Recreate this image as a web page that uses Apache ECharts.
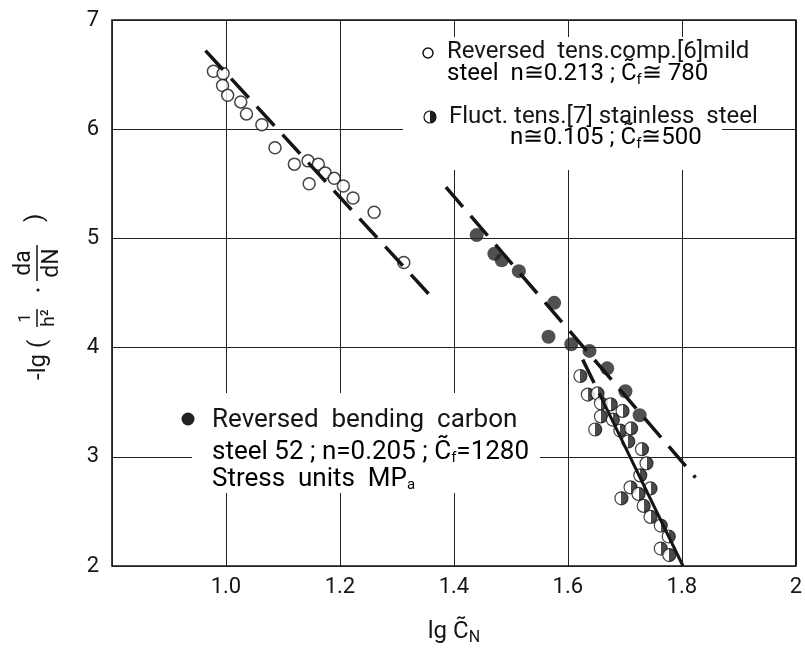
<!DOCTYPE html>
<html><head><meta charset="utf-8">
<script src="https://cdn.jsdelivr.net/npm/echarts@6/dist/echarts.min.js"></script>
<style>html,body{margin:0;padding:0;background:#fff}#c{width:805px;height:651px}</style>
</head><body><div id="c"></div>
<script>
// ---- data ----
const xTickLabels = ['', '1.0', '1.2', '1.4', '1.6', '1.8', '2'];
const yTickLabels = ['2', '3', '4', '5', '6', '7'];

// ○ Reversed tens.comp.[6] mild steel
const mildX = [0.978,0.995,0.994,1.003,1.026,1.036,1.063,1.086,1.120,1.144,1.162,1.174,1.190,1.206,1.223,1.146,1.260,1.312];
const mildY = [6.53,6.51,6.40,6.31,6.25,6.14,6.04,5.83,5.68,5.71,5.68,5.60,5.55,5.48,5.37,5.50,5.24,4.78];
const mildFitX = [0.964, 1.356];
const mildFitY = [6.72, 4.49];

// ● Reversed bending carbon steel 52
const carbonX = [1.440,1.471,1.484,1.514,1.576,1.566,1.606,1.638,1.669,1.701,1.726];
const carbonY = [5.03,4.86,4.80,4.70,4.41,4.10,4.03,3.97,3.81,3.60,3.38];
const carbonFitX = [1.386, 1.824];
const carbonFitY = [5.47, 2.81];

// ◑ Fluct. tens.[7] stainless steel
const stainX = [1.622,1.635,1.652,1.658,1.675,1.696,1.658,1.679,1.648,1.692,1.711,1.706,1.730,1.738,1.727,1.745,1.710,1.694,1.724,1.733,1.745,1.763,1.777,1.763,1.778];
const stainY = [3.74,3.57,3.58,3.49,3.48,3.42,3.37,3.34,3.25,3.24,3.26,3.14,3.07,2.94,2.83,2.71,2.72,2.62,2.66,2.55,2.45,2.37,2.27,2.16,2.10];
const stainFitDashX = [1.626, 1.655];
const stainFitDashY = [3.89, 3.58];
const stainFitSolidX = [1.655, 1.802];
const stainFitSolidY = [3.58, 2.00];

// ---- chart ----
const FONT = 'Roboto';
const INK = '#151515';
const pairs = (xs, ys) => xs.map((x, i) => [x, ys[i]]);
const halfFill = {type:'linear', x:0, y:0, x2:1, y2:0, colorStops:[
  {offset:0,color:'#ffffff'},{offset:0.5,color:'#ffffff'},{offset:0.5,color:'#1e1e1e'},{offset:1,color:'#1e1e1e'}]};

const chart = echarts.init(document.getElementById('c'));
const sub = {fontSize:15, fontFamily:FONT, color:INK, padding:[12,0,0,0]};
const lineDash = {color:INK, width:3.5, type:[26,12]};

chart.setOption({
  animation:false,
  backgroundColor:'#fff',
  grid:{left:112, right:8, top:20, bottom:83, show:true, borderColor:INK, borderWidth:1.6},
  xAxis:{type:'value', min:0.8, max:2.0, interval:0.2,
    axisLine:{show:false}, axisTick:{show:false},
    splitLine:{show:true, lineStyle:{color:'#222', width:1}},
    axisLabel:{formatter:(v,i)=>xTickLabels[i] || '', fontSize:22, fontFamily:FONT, color:INK, margin:10},
    name:'{t|lg C\u0303}{s|N}', nameLocation:'middle', nameGap:52,
    nameTextStyle:{rich:{t:{fontSize:24, fontFamily:FONT, color:INK}, s:{fontSize:16, fontFamily:FONT, color:INK, padding:[12,0,0,0]}}}
  },
  yAxis:{type:'value', min:2, max:7, interval:1,
    axisLine:{show:false}, axisTick:{show:false},
    splitLine:{show:true, lineStyle:{color:'#222', width:1}},
    axisLabel:{formatter:(v,i)=>yTickLabels[i], fontSize:22, fontFamily:FONT, color:INK, margin:13}
  },
  graphic:[
    {type:'rect', z:1, shape:{x:403, y:37, width:319, height:133}, style:{fill:'#fff'}},
    {type:'rect', z:1, shape:{x:192, y:393, width:348, height:100}, style:{fill:'#fff'}},
    // legend symbols
    {type:'circle', z:5, shape:{cx:428, cy:53, r:5}, style:{fill:'#fff', stroke:INK, lineWidth:1.5}},
    {type:'circle', z:5, shape:{cx:430, cy:117, r:6}, style:{fill:halfFill, stroke:INK, lineWidth:1.2}},
    {type:'circle', z:5, shape:{cx:188, cy:419, r:6.5}, style:{fill:'#222'}},
    // legend texts
    {type:'text', z:5, style:{x:447, y:52, text:'Reversed  tens.comp.[6]mild', fontSize:24, fontFamily:FONT, fill:INK, verticalAlign:'middle'}},
    {type:'text', z:5, style:{x:447, y:74, text:'{t|steel  n\u22450.213 ; C\u0303}{s|f}{t|\u2245 780}', verticalAlign:'middle',
      rich:{t:{fontSize:24, fontFamily:FONT, color:INK}, s:sub}}},
    {type:'text', z:5, style:{x:449, y:117, text:'Fluct. tens.[7] stainless  steel', fontSize:24, fontFamily:FONT, fill:INK, verticalAlign:'middle'}},
    {type:'text', z:5, style:{x:510, y:138, text:'{t|n\u22450.105 ; C\u0303}{s|f}{t|\u2245500}', verticalAlign:'middle',
      rich:{t:{fontSize:24, fontFamily:FONT, color:INK}, s:sub}}},
    {type:'text', z:5, style:{x:212, y:420, text:'Reversed  bending  carbon', fontSize:26, fontFamily:FONT, fill:INK, verticalAlign:'middle'}},
    {type:'text', z:5, style:{x:212, y:452, text:'{t|steel 52 ; n=0.205 ; C\u0303}{s|f}{t|=1280}', verticalAlign:'middle',
      rich:{t:{fontSize:26, fontFamily:FONT, color:INK}, s:sub}}},
    {type:'text', z:5, style:{x:212, y:479, text:'{t|Stress  units  MP}{s|a}', verticalAlign:'middle',
      rich:{t:{fontSize:26, fontFamily:FONT, color:INK}, s:sub}}},
    // y axis title, rotated
    {type:'group', x:37, y:380, rotation:Math.PI/2, z:5, children:[
      {type:'text', style:{x:0, y:2, text:'-lg (', fontSize:24, fontFamily:FONT, fill:INK, verticalAlign:'middle'}},
      {type:'text', style:{x:62, y:-11, text:'1', fontSize:17, fontFamily:FONT, fill:INK, align:'center', verticalAlign:'middle'}},
      {type:'line', shape:{x1:53, y1:0, x2:71, y2:0}, style:{stroke:INK, lineWidth:1.5}},
      {type:'text', style:{x:62, y:12, text:'h\u00b2', fontSize:19, fontFamily:FONT, fill:INK, align:'center', verticalAlign:'middle'}},
      {type:'circle', shape:{cx:90, cy:1, r:1.6}, style:{fill:INK}},
      {type:'text', style:{x:117, y:-13, text:'da', fontSize:23, fontFamily:FONT, fill:INK, align:'center', verticalAlign:'middle'}},
      {type:'line', shape:{x1:99, y1:0, x2:135, y2:0}, style:{stroke:INK, lineWidth:1.5}},
      {type:'text', style:{x:117, y:15, text:'dN', fontSize:23, fontFamily:FONT, fill:INK, align:'center', verticalAlign:'middle'}},
      {type:'text', style:{x:158, y:-1, text:')', fontSize:24, fontFamily:FONT, fill:INK, verticalAlign:'middle'}}
    ]}
  ],
  series:[
    {type:'scatter', data:pairs(mildX, mildY), symbol:'circle', symbolSize:12,
      itemStyle:{color:'#fff', borderColor:INK, borderWidth:1.5}, z:3},
    {type:'scatter', data:pairs(carbonX, carbonY), symbol:'circle', symbolSize:14,
      itemStyle:{color:'#242424'}, z:3},
    {type:'scatter', data:pairs(stainX, stainY), symbol:'circle', symbolSize:13,
      itemStyle:{color:halfFill, borderColor:INK, borderWidth:1.2}, z:3},
    {type:'line', data:pairs(mildFitX, mildFitY), showSymbol:false, lineStyle:lineDash, z:4},
    {type:'line', data:pairs(carbonFitX, carbonFitY), showSymbol:false, lineStyle:lineDash, z:4},
    {type:'line', data:pairs(stainFitDashX, stainFitDashY), showSymbol:false, lineStyle:lineDash, z:4},
    {type:'line', data:pairs(stainFitSolidX, stainFitSolidY), showSymbol:false, lineStyle:{color:INK, width:3}, z:4}
  ]
});
</script>
</body></html>
